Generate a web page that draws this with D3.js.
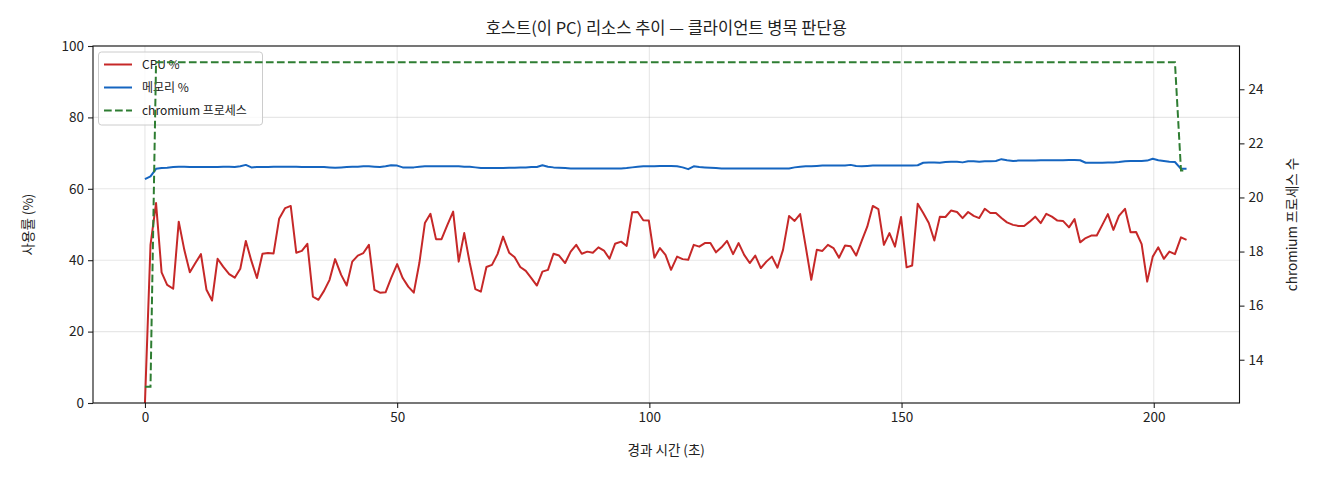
<!DOCTYPE html>
<html><head><meta charset="utf-8">
<script src="https://cdn.jsdelivr.net/npm/d3@7/dist/d3.min.js"></script>
<style>
body{margin:0;background:#fff;}
svg text{font-family:"Noto Sans CJK KR","Noto Sans",sans-serif;fill:#222;}
</style></head>
<body><svg id="c" width="1320" height="480"></svg>
<script>
const TITLE = "호스트(이 PC) 리소스 추이 — 클라이언트 병목 판단용";
const X_LABEL = "경과 시간 (초)";
const Y_LEFT_LABEL = "사용률 (%)";
const Y_RIGHT_LABEL = "chromium 프로세스 수";
const SERIES_NAMES = ["CPU %", "메모리 %", "chromium 프로세스"];
const X_TICKS = [0, 50, 100, 150, 200];
const Y_LEFT_TICKS = [0, 20, 40, 60, 80, 100];
const Y_RIGHT_TICKS = [14, 16, 18, 20, 22, 24];

const elapsed = [
0,1.1,2.2,3.3,4.4,5.6,6.7,7.8,8.9,10.0,11.1,12.2,13.3,14.4,15.5,16.7,17.8,18.9,20.0,21.1,
22.2,23.3,24.4,25.5,26.6,27.8,28.9,30.0,31.1,32.2,33.3,34.4,35.5,36.6,37.7,38.9,40.0,41.1,42.2,43.3,
44.4,45.5,46.6,47.7,48.8,50.0,51.1,52.2,53.3,54.4,55.5,56.6,57.7,58.8,59.9,61.1,62.2,63.3,64.4,65.5,
66.6,67.7,68.8,69.9,71.0,72.2,73.3,74.4,75.5,76.6,77.7,78.8,79.9,81.0,82.1,83.3,84.4,85.5,86.6,87.7,
88.8,89.9,91.0,92.1,93.2,94.4,95.5,96.6,97.7,98.8,99.9,101.0,102.1,103.2,104.3,105.5,106.6,107.7,108.8,109.9,
111.0,112.1,113.2,114.3,115.4,116.6,117.7,118.8,119.9,121.0,122.1,123.2,124.3,125.4,126.5,127.7,128.8,129.9,131.0,132.1,
133.2,134.3,135.4,136.5,137.6,138.8,139.9,141.0,142.1,143.2,144.3,145.4,146.5,147.6,148.7,149.9,151.0,152.1,153.2,154.3,
155.4,156.5,157.6,158.7,159.8,161.0,162.1,163.2,164.3,165.4,166.5,167.6,168.7,169.8,170.9,172.1,173.2,174.3,175.4,176.5,
177.6,178.7,179.8,180.9,182.0,183.2,184.3,185.4,186.5,187.6,188.7,189.8,190.9,192.0,193.1,194.3,195.4,196.5,197.6,198.7,
199.8,200.9,202.0,203.1,204.2,205.4,206.5];

const cpuPct = [
0,44.3,56.0,36.6,33.1,32.0,50.8,42.9,36.6,39.2,41.7,31.7,28.7,40.4,38.2,36.1,35.1,37.6,45.4,39.8,
35.0,41.8,42.0,41.9,51.6,54.6,55.2,42.1,42.6,44.6,29.8,28.9,
31.4,34.5,40.3,35.9,32.9,39.6,41.3,42.0,44.3,31.7,30.9,31.0,35.0,38.9,35.0,32.6,30.9,39.2,50.4,53.0,
45.9,45.9,49.7,53.6,39.6,47.6,39.2,31.9,31.2,38.1,38.7,
41.7,46.6,42.1,40.8,38.1,37.0,35.0,32.9,36.8,37.3,41.8,41.3,39.2,42.4,44.3,41.8,42.4,42.1,43.6,42.7,
40.4,44.6,45.2,44.0,53.4,53.5,51.2,51.1,40.7,43.4,41.5,37.3,
41.0,40.3,40.1,44.3,43.8,44.8,44.8,42.2,43.6,45.4,41.7,44.8,41.5,39.2,41.3,37.8,39.6,41.0,37.9,42.9,
52.4,51.0,52.9,43.8,34.5,42.9,42.6,44.3,43.4,40.7,44.1,
43.9,41.3,45.4,49.4,55.2,54.3,44.3,47.6,43.8,52.1,38.0,38.5,55.8,53.2,50.4,45.5,52.2,52.1,53.9,53.5,
51.8,53.5,52.4,51.8,54.4,53.2,53.2,51.8,50.6,49.9,49.6,
49.6,50.8,52.2,50.4,53.0,52.2,51.1,51.0,49.2,51.5,45.0,46.2,46.9,46.9,49.9,52.9,48.5,52.4,54.4,47.8,
47.9,44.5,34.0,41.0,43.6,40.4,42.4,41.7,46.4,45.7];

const memPct = [
62.7,63.5,65.6,65.8,65.9,66.1,66.2,66.2,66.1,66.1,66.1,66.1,66.1,66.1,66.2,66.2,66.1,66.3,66.7,66.0,
66.1,66.1,66.1,66.2,66.2,66.2,66.2,66.2,66.1,66.1,66.1,66.1,
66.1,66.0,65.9,66.0,66.1,66.2,66.2,66.3,66.3,66.2,66.1,66.3,66.6,66.5,66.0,66.0,66.0,66.2,66.3,66.3,
66.3,66.3,66.3,66.3,66.3,66.2,66.2,66.0,65.8,65.8,65.8,
65.8,65.8,65.9,65.9,66.0,66.0,66.1,66.1,66.6,66.2,66.0,65.9,65.8,65.7,65.7,65.7,65.7,65.7,65.7,65.7,
65.7,65.7,65.7,65.8,66.0,66.2,66.3,66.3,66.3,66.4,66.4,66.4,
66.3,66.0,65.5,66.3,66.1,66.0,65.9,65.8,65.7,65.7,65.7,65.7,65.7,65.7,65.7,65.7,65.7,65.7,65.7,65.7,
65.7,66.0,66.2,66.3,66.3,66.4,66.5,66.5,66.5,66.5,66.5,
66.7,66.4,66.3,66.4,66.5,66.5,66.5,66.5,66.5,66.5,66.5,66.5,66.6,67.3,67.4,67.4,67.3,67.5,67.6,67.6,
67.4,67.7,67.7,67.6,67.7,67.7,67.8,68.3,68.0,67.8,67.9,
67.9,67.9,67.9,68.0,68.0,68.0,68.0,68.0,68.1,68.1,68.0,67.3,67.3,67.3,67.3,67.4,67.4,67.5,67.7,67.8,
67.8,67.8,67.9,68.4,68.0,67.8,67.6,67.5,65.6,65.6];

const chromiumProcs = [
13,13,25,25,25,25,25,25,25,25,25,25,25,25,25,25,25,25,25,25,25,25,
25,25,25,25,25,25,25,25,25,25,25,25,25,25,25,25,25,25,25,25,
25,25,25,25,25,25,25,25,25,25,25,25,25,25,25,25,25,25,25,25,
25,25,25,25,25,25,25,25,25,25,25,25,25,25,25,25,25,25,25,25,
25,25,25,25,25,25,25,25,25,25,25,25,25,25,25,25,25,25,25,25,
25,25,25,25,25,25,25,25,25,25,25,25,25,25,25,25,25,25,25,25,
25,25,25,25,25,25,25,25,25,25,25,25,25,25,25,25,25,25,25,25,
25,25,25,25,25,25,25,25,25,25,25,25,25,25,25,25,25,25,25,25,
25,25,25,25,25,25,25,25,25,25,25,25,25,25,25,25,25,25,25,25,
25,25,25,21,21];

const COLORS = ["#c62828", "#1565c0", "#2e7d32"];

const svg = d3.select("#c");
const L = 93, R = 1239.5, T = 46, B = 403;
const x = d3.scaleLinear().domain([-10.3, 217.0]).range([L, R]);
const yL = d3.scaleLinear().domain([0, 100]).range([B, T]);
const yR = d3.scaleLinear().domain([12.4, 25.6]).range([B, T]);

const clipId = "plotclip";
svg.append("defs").append("clipPath").attr("id", clipId)
  .append("rect").attr("x", L).attr("y", T).attr("width", R - L).attr("height", B - T);

// grid
const grid = svg.append("g").attr("stroke", "#b0b0b0").attr("stroke-opacity", 0.3).attr("stroke-width", 1.1);
X_TICKS.forEach(t => grid.append("line").attr("x1", x(t)).attr("x2", x(t)).attr("y1", T).attr("y2", B));
Y_LEFT_TICKS.forEach(t => grid.append("line").attr("x1", L).attr("x2", R).attr("y1", yL(t)).attr("y2", yL(t)));

const plot = svg.append("g").attr("clip-path", `url(#${clipId})`);
const idx = d3.range(elapsed.length);
const lineCpu = d3.line().x(i => x(elapsed[i])).y(i => yL(cpuPct[i]));
const lineMem = d3.line().x(i => x(elapsed[i])).y(i => yL(memPct[i]));
const lineChr = d3.line().x(i => x(elapsed[i])).y(i => yR(chromiumProcs[i]));

plot.append("path").attr("d", lineCpu(idx)).attr("fill", "none").attr("stroke", COLORS[0])
  .attr("stroke-width", 2).attr("stroke-linejoin", "round");
plot.append("path").attr("d", lineMem(idx)).attr("fill", "none").attr("stroke", COLORS[1])
  .attr("stroke-width", 2).attr("stroke-linejoin", "round");

// legend (on left axes, beneath twin axes line)
const lg = svg.append("g");
lg.append("rect").attr("x", 98.5).attr("y", 52).attr("width", 164).attr("height", 73)
  .attr("rx", 3).attr("fill", "#fff").attr("fill-opacity", 0.8).attr("stroke", "#cccccc").attr("stroke-width", 1);
SERIES_NAMES.forEach((n, i) => {
  const yy = 64.5 + i * 23;
  lg.append("line").attr("x1", 104).attr("x2", 132).attr("y1", yy).attr("y2", yy)
    .attr("stroke", COLORS[i]).attr("stroke-width", 2)
    .attr("stroke-dasharray", i === 2 ? "7.7,3.3" : null);
  lg.append("text").attr("x", 142).attr("y", yy).attr("dy", "0.35em")
    .attr("font-size", 12).text(n);
});

// twin axes line drawn above the legend
const plot2 = svg.append("g").attr("clip-path", `url(#${clipId})`);
plot2.append("path").attr("d", lineChr(idx)).attr("fill", "none").attr("stroke", COLORS[2])
  .attr("stroke-width", 2).attr("stroke-dasharray", "7.7,3.3");

// axes
const fs = 13.5;
const ax = svg.append("g").attr("transform", `translate(0,${B})`)
  .call(d3.axisBottom(x).tickValues(X_TICKS).tickSize(5).tickPadding(4).tickFormat(d3.format("d")));
const ayl = svg.append("g").attr("transform", `translate(${L},0)`)
  .call(d3.axisLeft(yL).tickValues(Y_LEFT_TICKS).tickSize(5).tickPadding(4).tickFormat(d3.format("d")));
const ayr = svg.append("g").attr("transform", `translate(${R},0)`)
  .call(d3.axisRight(yR).tickValues(Y_RIGHT_TICKS).tickSize(5).tickPadding(4).tickFormat(d3.format("d")));
[ax, ayl, ayr].forEach(g => {
  g.select(".domain").remove();
  g.selectAll(".tick line").attr("stroke", "#222").attr("stroke-width", 1.1);
  g.selectAll(".tick text").attr("font-size", fs).attr("fill", "#222")
    .style("font-family", '"Noto Sans CJK KR","Noto Sans",sans-serif');
});

// frame
svg.append("rect").attr("x", L).attr("y", T).attr("width", R - L).attr("height", B - T)
  .attr("fill", "none").attr("stroke", "#111").attr("stroke-width", 1.1);

// labels
svg.append("text").attr("x", (L + R) / 2).attr("y", 34).attr("text-anchor", "middle")
  .attr("font-size", 16.5).text(TITLE);
svg.append("text").attr("x", (L + R) / 2).attr("y", 455).attr("text-anchor", "middle")
  .attr("font-size", 13.5).text(X_LABEL);
svg.append("text").attr("transform", `translate(33,${(T + B) / 2}) rotate(-90)`)
  .attr("text-anchor", "middle").attr("font-size", 13.5).text(Y_LEFT_LABEL);
svg.append("text").attr("transform", `translate(1297,${(T + B) / 2}) rotate(-90)`)
  .attr("text-anchor", "middle").attr("font-size", 13.5).text(Y_RIGHT_LABEL);
</script></body></html>
